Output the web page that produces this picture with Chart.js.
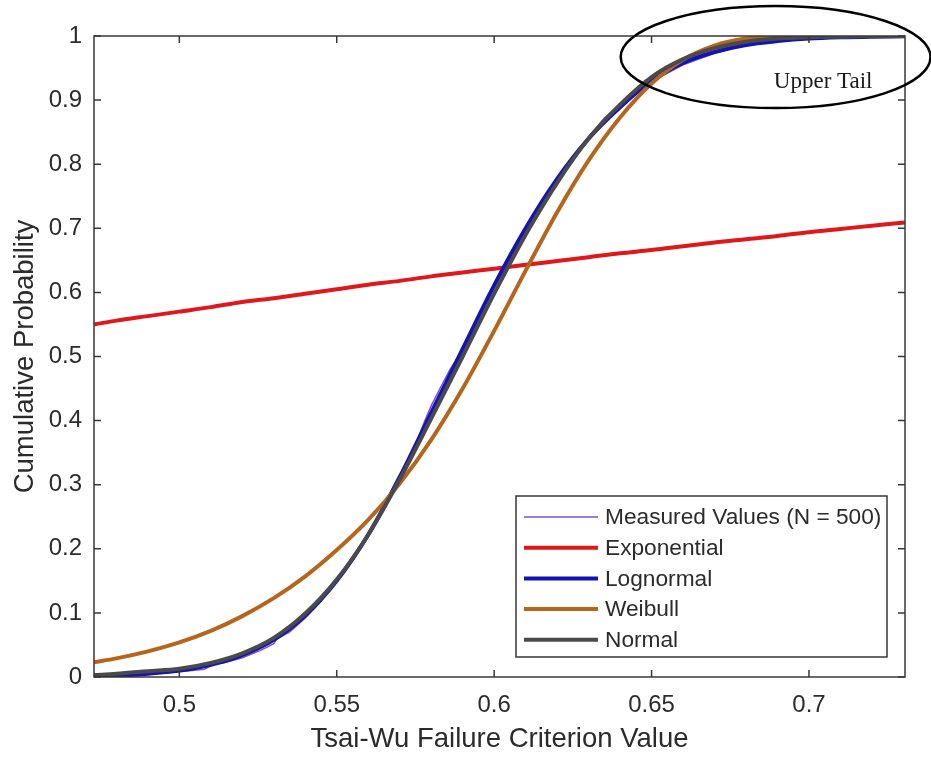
<!DOCTYPE html>
<html>
<head>
<meta charset="utf-8">
<title>Tsai-Wu CDF fits</title>
<script src="https://cdn.jsdelivr.net/npm/chart.js@4.4.1/dist/chart.umd.min.js"></script>
<style>
  html, body { margin: 0; padding: 0; background: #fff; }
  canvas { display: block; }
</style>
</head>
<body>
<canvas id="cdfChart" width="931" height="758"></canvas>
<script>
// x values shared by the fitted distributions
const fitX = [0.4729, 0.48, 0.49, 0.50, 0.51, 0.52, 0.53, 0.54, 0.55, 0.56, 0.57, 0.58, 0.59, 0.60,
              0.61, 0.62, 0.63, 0.64, 0.65, 0.66, 0.67, 0.68, 0.69, 0.70, 0.71, 0.72, 0.7305];

const expY = [0.550, 0.556, 0.563, 0.570, 0.577, 0.585, 0.591, 0.598, 0.605, 0.612, 0.618, 0.625, 0.631, 0.637,
              0.643, 0.649, 0.655, 0.661, 0.666, 0.672, 0.678, 0.683, 0.688, 0.694, 0.699, 0.704, 0.709];
const lognY = [0.001, 0.002, 0.005, 0.010, 0.019, 0.034, 0.058, 0.096, 0.150, 0.222, 0.312, 0.412, 0.512, 0.611,
               0.700, 0.777, 0.840, 0.889, 0.930, 0.958, 0.975, 0.986, 0.992, 0.996, 0.998, 0.999, 0.9995];
const weibY = [0.023, 0.029, 0.040, 0.054, 0.072, 0.095, 0.123, 0.157, 0.198, 0.245, 0.302, 0.370, 0.450, 0.540,
               0.634, 0.725, 0.806, 0.873, 0.926, 0.963, 0.985, 0.996, 1.0, 1.0, 1.0, 1.0, 1.0];
const normY = [0.003, 0.005, 0.009, 0.013, 0.022, 0.037, 0.061, 0.099, 0.152, 0.222, 0.308, 0.403, 0.500, 0.598,
               0.690, 0.771, 0.840, 0.893, 0.936, 0.964, 0.981, 0.991, 0.996, 0.998, 0.999, 1.0, 1.0];

// empirical CDF of the 500 samples
const measX = [0.4729, 0.490, 0.500, 0.508, 0.511, 0.514, 0.520, 0.526, 0.530, 0.531, 0.535, 0.540, 0.545, 0.546,
               0.550, 0.555, 0.560, 0.565, 0.568, 0.572, 0.575, 0.578, 0.580, 0.583, 0.586, 0.588, 0.591, 0.595,
               0.600, 0.605, 0.610, 0.615, 0.620, 0.625, 0.630, 0.635, 0.640, 0.650, 0.660, 0.670, 0.680, 0.690,
               0.700, 0.715, 0.7305];
const measY = [0.002, 0.004, 0.008, 0.012, 0.020, 0.022, 0.030, 0.042, 0.052, 0.060, 0.070, 0.092, 0.118, 0.128,
               0.148, 0.185, 0.222, 0.262, 0.290, 0.330, 0.362, 0.400, 0.423, 0.452, 0.480, 0.495, 0.518, 0.560,
               0.608, 0.652, 0.700, 0.738, 0.778, 0.810, 0.842, 0.872, 0.893, 0.929, 0.955, 0.973, 0.986, 0.993,
               0.997, 0.999, 1.0];

const xTicks = [0.5, 0.55, 0.6, 0.65, 0.7];
const yTicks = [0, 0.1, 0.2, 0.3, 0.4, 0.5, 0.6, 0.7, 0.8, 0.9, 1];
const xRange = [0.4729, 0.7305];

// "Upper Tail" callout, in data units
const tailNote = { cx: 0.6894, cy: 0.9672, rx: 0.0492, ry: 0.0796, text: 'Upper Tail', tx: 0.7045, ty: 0.919 };

const axisColor = '#383838';
const textColor = '#2b2b2b';
const sansFont = 'Liberation Sans, Arial, sans-serif';

function toPoints(xs, ys) {
    return xs.map((x, i) => ({ x: x, y: ys[i] }));
}

// box outline plus inward ticks on all four sides
const boxPlugin = {
    id: 'boxPlugin',
    afterDatasetsDraw(chart) {
        const { ctx, chartArea: a, scales } = chart;
        const len = 7;
        ctx.save();
        ctx.strokeStyle = axisColor;
        ctx.lineWidth = 1.5;
        ctx.strokeRect(a.left, a.top, a.right - a.left, a.bottom - a.top);
        ctx.beginPath();
        xTicks.forEach(v => {
            const px = scales.x.getPixelForValue(v);
            ctx.moveTo(px, a.bottom); ctx.lineTo(px, a.bottom - len);
            ctx.moveTo(px, a.top); ctx.lineTo(px, a.top + len);
        });
        yTicks.forEach(v => {
            const py = scales.y.getPixelForValue(v);
            ctx.moveTo(a.left, py); ctx.lineTo(a.left + len, py);
            ctx.moveTo(a.right, py); ctx.lineTo(a.right - len, py);
        });
        ctx.stroke();
        ctx.restore();
    }
};

// legend box in the lower right corner of the plot
const legendPlugin = {
    id: 'legendPlugin',
    afterDraw(chart) {
        const { ctx, chartArea: a } = chart;
        const sets = chart.data.datasets;
        const right = a.right - 18, bottom = a.bottom - 20;
        const rowH = 30.7;
        const w = 371, h = 161;
        const left = right - w, top = bottom - h;
        ctx.save();
        ctx.fillStyle = '#fff';
        ctx.fillRect(left, top, w, h);
        ctx.strokeStyle = axisColor;
        ctx.lineWidth = 1.5;
        ctx.strokeRect(left, top, w, h);
        ctx.font = '22.7px ' + sansFont;
        ctx.textBaseline = 'middle';
        ctx.textAlign = 'left';
        sets.forEach((ds, i) => {
            const y = top + 21 + i * rowH;
            ctx.strokeStyle = ds.borderColor;
            ctx.lineWidth = ds.borderWidth;
            ctx.beginPath();
            ctx.moveTo(left + 8, y);
            ctx.lineTo(left + 82, y);
            ctx.stroke();
            ctx.fillStyle = textColor;
            ctx.fillText(ds.label, left + 89, y + 1);
        });
        ctx.restore();
    }
};

// ellipse and label marking the upper tail
const tailPlugin = {
    id: 'tailPlugin',
    afterDraw(chart) {
        const { ctx, scales } = chart;
        const cx = scales.x.getPixelForValue(tailNote.cx);
        const cy = scales.y.getPixelForValue(tailNote.cy);
        const rx = scales.x.getPixelForValue(tailNote.cx + tailNote.rx) - cx;
        const ry = cy - scales.y.getPixelForValue(tailNote.cy + tailNote.ry);
        ctx.save();
        ctx.strokeStyle = '#000';
        ctx.lineWidth = 2.5;
        ctx.beginPath();
        ctx.ellipse(cx, cy, rx, ry, 0, 0, Math.PI * 2);
        ctx.stroke();
        ctx.fillStyle = '#1a1a1a';
        ctx.font = '23px Liberation Serif, Times New Roman, serif';
        ctx.textAlign = 'center';
        ctx.textBaseline = 'alphabetic';
        ctx.fillText(tailNote.text, scales.x.getPixelForValue(tailNote.tx), scales.y.getPixelForValue(tailNote.ty));
        ctx.restore();
    }
};

const lineStyle = {
    pointRadius: 0,
    fill: false,
    cubicInterpolationMode: 'monotone'
};

new Chart(document.getElementById('cdfChart'), {
    type: 'line',
    data: {
        datasets: [
            { ...lineStyle, label: 'Measured Values (N = 500)', data: toPoints(measX, measY),
              borderColor: '#7a4fd6', borderWidth: 1.5, order: 5, cubicInterpolationMode: 'default', tension: 0 },
            { ...lineStyle, label: 'Exponential', data: toPoints(fitX, expY),
              borderColor: '#e0181c', borderWidth: 4, order: 4 },
            { ...lineStyle, label: 'Lognormal', data: toPoints(fitX, lognY),
              borderColor: '#1414b4', borderWidth: 4, order: 3 },
            { ...lineStyle, label: 'Weibull', data: toPoints(fitX, weibY),
              borderColor: '#b4661c', borderWidth: 4, order: 2 },
            { ...lineStyle, label: 'Normal', data: toPoints(fitX, normY),
              borderColor: '#4a4a4a', borderWidth: 4, order: 1 }
        ]
    },
    options: {
        responsive: false,
        animation: false,
        devicePixelRatio: 1,
        layout: { padding: { top: 36, right: 26, left: 0, bottom: 0 } },
        plugins: {
            legend: { display: false },
            tooltip: { enabled: false }
        },
        scales: {
            x: {
                type: 'linear',
                min: xRange[0],
                max: xRange[1],
                afterBuildTicks: scale => { scale.ticks = xTicks.map(v => ({ value: v })); },
                afterFit: scale => { scale.height = 81; },
                grid: { display: false, drawTicks: false },
                border: { display: false },
                ticks: {
                    padding: 14,
                    color: textColor,
                    font: { family: sansFont, size: 24 },
                    callback: v => String(v)
                },
                title: {
                    display: true,
                    text: 'Tsai-Wu Failure Criterion Value',
                    color: textColor,
                    font: { family: sansFont, size: 27.5 },
                    padding: { top: 0, bottom: 2 }
                }
            },
            y: {
                type: 'linear',
                min: 0,
                max: 1,
                afterBuildTicks: scale => { scale.ticks = yTicks.map(v => ({ value: v })); },
                afterFit: scale => { scale.width = 94; },
                grid: { display: false, drawTicks: false },
                border: { display: false },
                ticks: {
                    padding: 12,
                    color: textColor,
                    font: { family: sansFont, size: 24 },
                    callback: v => String(v)
                },
                title: {
                    display: true,
                    text: 'Cumulative Probability',
                    color: textColor,
                    font: { family: sansFont, size: 27.5 },
                    padding: { top: 9, bottom: 0 }
                }
            }
        }
    },
    plugins: [boxPlugin, legendPlugin, tailPlugin]
});
</script>
</body>
</html>
